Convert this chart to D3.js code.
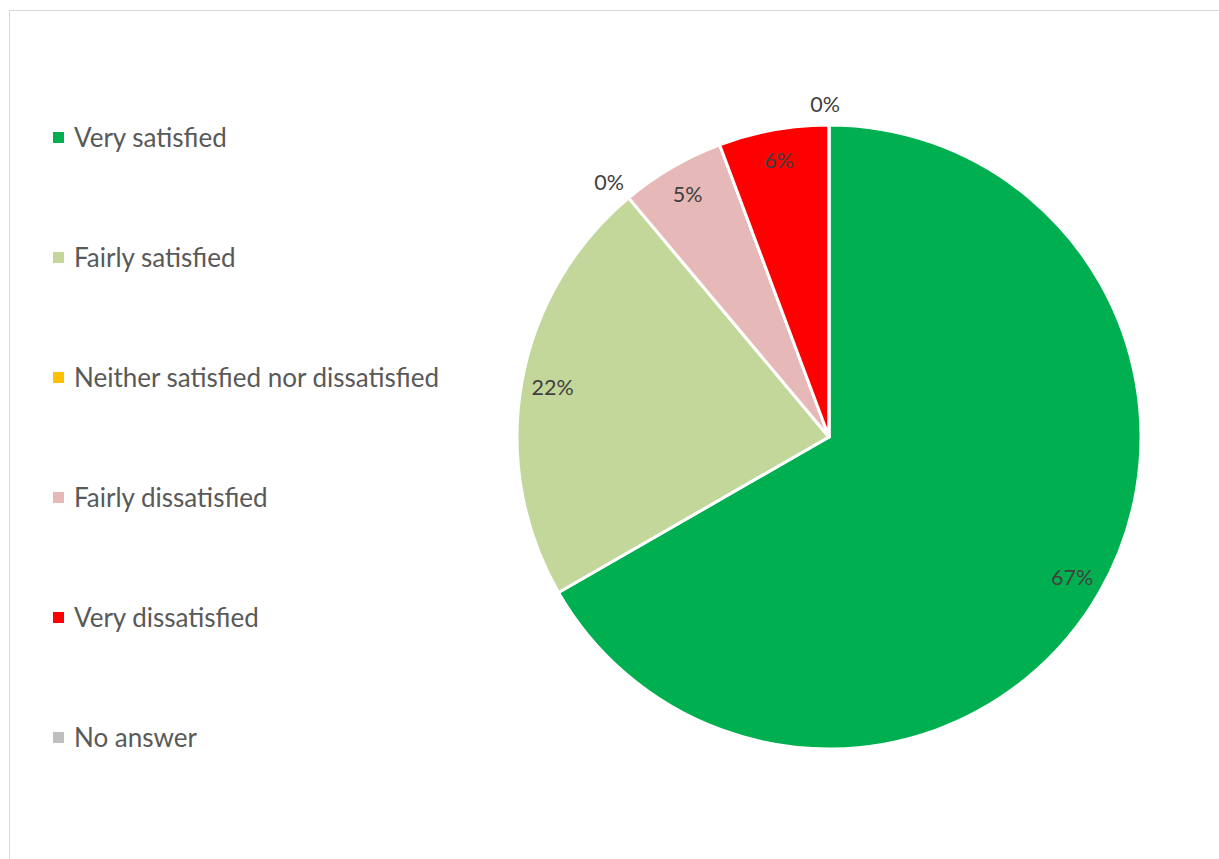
<!DOCTYPE html>
<html><head><meta charset="utf-8">
<script src="https://cdn.jsdelivr.net/npm/d3@7"></script>
<style>html,body{margin:0;padding:0;background:#fff;overflow:hidden}</style>
</head><body>
<svg id="chart" width="1219" height="859"></svg>
<script>
const categories = ["Very satisfied","Fairly satisfied","Neither satisfied nor dissatisfied","Fairly dissatisfied","Very dissatisfied","No answer"];
const values = [0.667, 0.222, 0, 0.054, 0.057, 0];
const colors = ["#00B050","#C4D79B","#FFC000","#E6B9B8","#FF0000","#BFBFBF"];

const svg = d3.select("#chart");
const W = 1219, H = 859;
svg.append("rect").attr("x",9.5).attr("y",10.5).attr("width",W).attr("height",H+50)
  .attr("fill","none").attr("stroke","#d9d9d9").attr("stroke-width",1);

const cx = 829, cy = 437, R = 312;
const data = categories.map((c,i)=>({name:c, value:values[i], color:colors[i]}));
const pie = d3.pie().sort(null).value(d=>d.value);
const arcs = pie(data);
const arc = d3.arc().innerRadius(0).outerRadius(R);
const g = svg.append("g").attr("transform",`translate(${cx},${cy})`);
g.selectAll("path").data(arcs).join("path")
  .attr("d",arc).attr("fill",d=>d.data.color)
  .attr("stroke","#fff").attr("stroke-width",3).attr("stroke-linejoin","round");

const inArc = d3.arc().innerRadius(R*0.9).outerRadius(R*0.9);
const outArc = d3.arc().innerRadius(R+24).outerRadius(R+24);
const fmt = d3.format(".0%");
g.selectAll("text.lbl").data(arcs).join("text").attr("class","lbl")
  .attr("transform",d=>{
    const p = (d.data.value>0?inArc:outArc).centroid(d);
    if (d.data.value===0) { p[0] -= 4; p[1] += 3; }
    return `translate(${p})`;
  })
  .attr("text-anchor","middle").attr("dy","0.35em")
  .attr("font-family","Lato, 'Open Sans', sans-serif").attr("font-size",21.5)
  .attr("fill","#404040")
  .text(d=>fmt(d.data.value));

const leg = svg.append("g");
const items = leg.selectAll("g").data(data).join("g")
  .attr("transform",(d,i)=>`translate(53,${137.5+i*120})`);
items.append("rect").attr("x",0).attr("y",-5.5).attr("width",11).attr("height",11).attr("fill",d=>d.color);
items.append("text").attr("x",21).attr("dy","0.35em")
  .attr("font-family","Lato, 'Open Sans', sans-serif").attr("font-size",26)
  .attr("fill","#595959").text(d=>d.name);
</script>
</body></html>
